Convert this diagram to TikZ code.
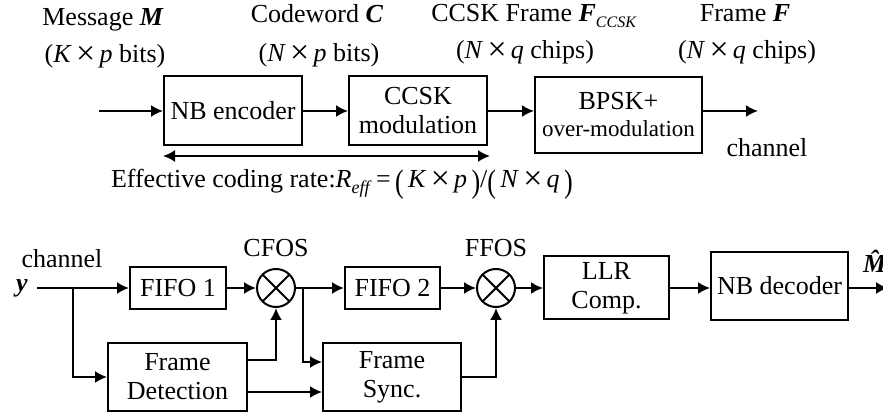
\documentclass[tikz,border=0pt]{standalone}
\usepackage{fontspec}
\setmainfont{Liberation Serif}
\usetikzlibrary{arrows.meta}
\tikzstyle{block} = [rectangle, draw=black, line width=1pt, align=center, inner sep=1pt]
\tikzstyle{mixer} = [circle, draw=black, line width=1pt, minimum size=19pt, inner sep=0pt,
path picture={\draw[line width=1pt] (path picture bounding box.north west) -- (path picture bounding box.south east)
(path picture bounding box.north east) -- (path picture bounding box.south west);}]
\tikzstyle{txt} = [anchor=base, inner sep=0pt]
% bigger cross and brackets for the formulas
\newcommand{\tms}{\,\raisebox{-0.15ex}{\scalebox{1.3}{×}}\,}
\newcommand{\lpar}{\raisebox{-0.35ex}{\scalebox{1}[1.25]{(}}\,}
\newcommand{\rpar}{\,\raisebox{-0.35ex}{\scalebox{1}[1.25]{)}}}

\begin{document}
\begin{tikzpicture}[x=0.5pt, y=-0.5pt, line width=1pt, >={Latex[length=6pt, width=6pt]},
    font=\fontsize{13}{14.5}\selectfont]
    \useasboundingbox (0,0) rectangle (883,416);

    % transmitter
    \node(nbEncoder)[block, minimum width=69pt, minimum height=34.5pt] at (233,111) {NB encoder};
    \node(ccskMod)[block, minimum width=69pt, minimum height=34.5pt] at (418,111) {CCSK\\modulation};
    \node(bpskMod)[block, minimum width=83.5pt, minimum height=38pt] at (618.5,115)
        {BPSK+\\[-1pt]{\fontsize{11.5}{13.5}\selectfont over-modulation}};
    \coordinate(txIn) at (99,111);
    \coordinate(txOut) at (758,111);
    \coordinate(rateL) at (163,156);
    \coordinate(rateR) at (490,156);

    \node[txt] at (103,26) {Message \textbf{\textit{M}}};
    \node[txt] at (105,63) {(\textit{K}\tms\textit{p} bits)};
    \node[txt] at (317,23) {Codeword \textbf{\textit{C}}};
    \node[txt] at (319,62) {(\textit{N}\tms\textit{p} bits)};
    \node[txt] at (534,22) {CCSK Frame \textbf{\textit{F}}\raisebox{-0.45ex}{\fontsize{8}{9}\selectfont\textit{CCSK}}};
    \node[txt] at (525,59) {(\textit{N}\tms\textit{q} chips)};
    \node[txt] at (745,22) {Frame \textbf{\textit{F}}};
    \node[txt] at (747,59) {(\textit{N}\tms\textit{q} chips)};
    \node[txt] at (767,157) {channel};
    \node[txt, anchor=base west] at (110,188)
        {Effective coding rate:\textit{R}\raisebox{-0.45ex}{\fontsize{9}{10}\selectfont\textit{eff}}\,=\,\lpar\textit{K}\tms\textit{p}\rpar/\lpar\textit{N}\tms\textit{q}\rpar};

    \draw[->] (txIn) -- (nbEncoder);
    \draw[->] (nbEncoder) -- (ccskMod);
    \draw[->] (ccskMod.east) -- (ccskMod.east -| bpskMod.west);
    \draw[->] (bpskMod.east |- txOut) -- (txOut);
    \draw[<->] (rateL) -- (rateR);

    % receiver
    \node(fifoOne)[block, minimum width=48pt, minimum height=21pt] at (178,288) {FIFO 1};
    \node(cfosMix)[mixer] at (276,288) {};
    \node(fifoTwo)[block, minimum width=47.5pt, minimum height=21pt] at (392.5,288) {FIFO 2};
    \node(ffosMix)[mixer] at (496,288) {};
    \node(llrComp)[block, minimum width=62.5pt, minimum height=31.5pt] at (606.5,288) {LLR\\Comp.};
    \node(nbDecoder)[block, minimum width=68.5pt, minimum height=34pt] at (779.5,286) {NB decoder};
    \node(frameDet)[block, minimum width=69.5pt, minimum height=34pt] at (177.5,377) {Frame\\Detection};
    \node(frameSync)[block, minimum width=69pt, minimum height=34pt] at (392,377) {Frame\\Sync.};
    \coordinate(rxIn) at (37,288);
    \coordinate(tapA) at (73,288);
    \coordinate(tapB) at (303,288);
    \coordinate(rxOut) at (888,288);

    \node[txt] at (62,268) {channel};
    \node[txt] at (22,292) {\textbf{\textit{y}}};
    \node[txt] at (276,257) {CFOS};
    \node[txt] at (496,257) {FFOS};
    \node[txt, anchor=base west] at (862,273) {\textbf{\textit{\^{M}}}};

    \draw[->] (rxIn) -- (fifoOne);
    \draw[->] (tapA) |- (frameDet);
    \draw[->] (fifoOne) -- (cfosMix);
    \draw[->] ([yshift=8.5pt]frameDet.east) -| (cfosMix);
    \draw[->] ([yshift=-7.5pt]frameDet.east) -- ([yshift=-7.5pt]frameSync.west);
    \draw[->] (cfosMix) -- (fifoTwo);
    \draw[->] (tapB) |- ([yshift=7.5pt]frameSync.west);
    \draw[->] (fifoTwo) -- (ffosMix);
    \draw[->] (frameSync) -| (ffosMix);
    \draw[->] (ffosMix) -- (llrComp);
    \draw[->] (llrComp) -- (llrComp -| nbDecoder.west);
    \draw[->] (nbDecoder.east |- rxOut) -- (rxOut);
\end{tikzpicture}
\end{document}
